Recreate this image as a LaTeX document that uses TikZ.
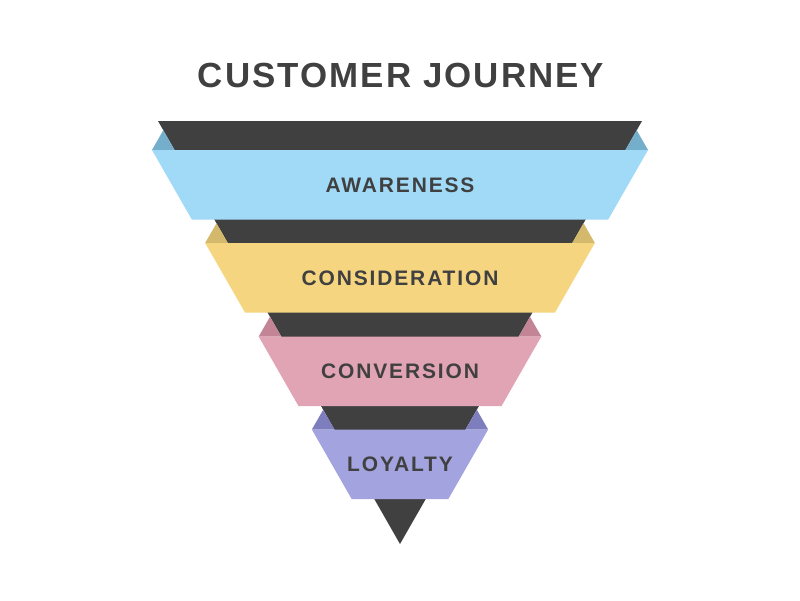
\documentclass[tikz,border=0pt]{standalone}
\usepackage{fontspec}
\setmainfont{Liberation Sans}
\usepackage{xcolor}
\usepackage{tikz}
\usetikzlibrary{positioning}
\definecolor{funnelDark}{RGB}{64,64,64}
\definecolor{awareBlue}{RGB}{160,218,247}
\definecolor{awareFold}{RGB}{117,174,203}
\definecolor{considerYellow}{RGB}{245,213,128}
\definecolor{considerFold}{RGB}{212,184,107}
\definecolor{convertPink}{RGB}{224,164,180}
\definecolor{convertFold}{RGB}{195,133,149}
\definecolor{loyalPurple}{RGB}{163,163,224}
\definecolor{loyalFold}{RGB}{126,126,190}
\tikzset{
  titletext/.style={
    text=funnelDark, inner sep=0pt,
    font=\fontsize{24.8}{30}\selectfont\bfseries\addfontfeature{LetterSpace=6}
  },
  bandlabel/.style={
    text=funnelDark, inner sep=0pt,
    font=\fontsize{14.9}{18}\selectfont\bfseries\addfontfeature{LetterSpace=9}
  }
}

\begin{document}
\begin{tikzpicture}[x=0.025cm, y=-0.025cm]
        \useasboundingbox[fill=white] (0,0) rectangle (800,600);
        \node[titletext] (title) at (401,75.5) {CUSTOMER JOURNEY};
        % dark funnel behind the bands
        \fill[funnelDark] (158,121) -- (642,121) -- (400,544) -- cycle;
        \foreach \ytop/\bandcol/\foldcol/\nm/\lbl in {
            150/awareBlue/awareFold/aware/AWARENESS,
            243/considerYellow/considerFold/consider/CONSIDERATION,
            336.5/convertPink/convertFold/convert/CONVERSION,
            429.5/loyalPurple/loyalFold/loyal/LOYALTY}{
          \pgfmathsetmacro\xl{152+0.572*(\ytop-150)}
          \pgfmathsetmacro\xlb{\xl+39.8}
          \fill[\foldcol] (\xl,\ytop) -- ++(22.6,0) -- ++(-11.3,-19.75) -- cycle;
          \fill[\foldcol] (800-\xl,\ytop) -- ++(-22.6,0) -- ++(11.3,-19.75) -- cycle;
          \fill[\bandcol] (\xl,\ytop) -- (800-\xl,\ytop)
            -- (800-\xlb,\ytop+69.5) -- (\xlb,\ytop+69.5) -- cycle;
          \node[bandlabel] (\nm) at (400,\ytop+35) {\lbl};
        }
      \end{tikzpicture}
\end{document}
